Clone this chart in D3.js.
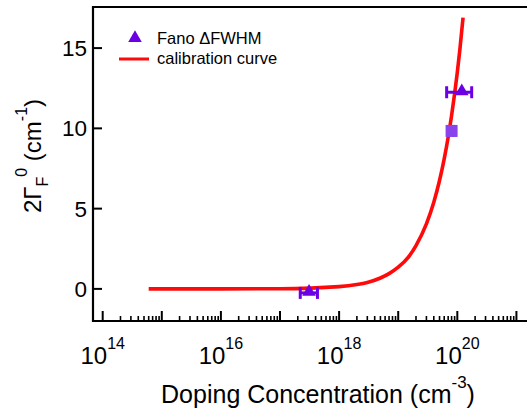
<!DOCTYPE html>
<html><head><meta charset="utf-8">
<script src="https://cdn.jsdelivr.net/npm/d3@7"></script>
<style>body{margin:0;background:#fff}svg{display:block}text{font-family:"Liberation Sans",Arial,sans-serif;fill:#000}</style>
</head><body><svg id="c" width="527" height="412"></svg>
<script>
// Fano ΔFWHM data
const fanoTriX = [3.1e17, 1.19e20];
const fanoTriY = [-0.25, 12.25];
const fanoTriXLo = [2.2e17, 6.6e19];
const fanoTriXHi = [4.3e17, 1.75e20];
const fanoSqX = [8.0e19];
const fanoSqY = [9.84];
const fanoSqXLo = [7.3e19];
const fanoSqXHi = [8.7e19];
// calibration curve
const curveX = [6e14, 1e16, 1e17, 1e18, 2e18, 3e18, 5e18, 7e18, 1e19, 1.5e19, 2e19, 3e19, 4e19, 5e19, 6e19, 7e19, 8e19, 9e19, 1e20, 1.1e20, 1.25e20];
const curveY = [0.0, 0.0, 0.01, 0.14, 0.27, 0.4, 0.68, 0.95, 1.35, 2.0, 2.7, 4.05, 5.4, 6.75, 8.1, 9.45, 10.8, 12.15, 13.5, 14.85, 16.9];
const yTicks = [0, 5, 10, 15];
const xMajorExp = [14, 15, 16, 17, 18, 19, 20, 21];
const xLabelExp = [14, 16, 18, 20];
const legendLabels = ["Fano \u0394FWHM", "calibration curve"];

const svg = d3.select("#c");
const L = 93, R = 527, T = 7, B = 321;
const x = d3.scaleLog().domain([Math.pow(10, 13.836), Math.pow(10, 21.179)]).range([L, R]);
const y = d3.scaleLinear().domain([-2, 17.56]).range([B, T]);
const triCol = "#6c00e4", sqCol = "#8a42ea", red = "#ff0a0a";

// curve
svg.append("path")
  .datum(curveX.map((d, i) => [d, curveY[i]]))
  .attr("fill", "none").attr("stroke", red).attr("stroke-width", 3.6)
  .attr("d", d3.line().x(d => x(d[0])).y(d => y(d[1])).curve(d3.curveMonotoneX));

// error bars helper
function xErr(lo, hi, yv, col) {
  const g = svg.append("g").attr("stroke", col).attr("stroke-width", 3);
  g.append("line").attr("x1", x(lo)).attr("x2", x(hi)).attr("y1", y(yv)).attr("y2", y(yv));
  [lo, hi].forEach(v => g.append("line").attr("x1", x(v)).attr("x2", x(v)).attr("y1", y(yv) - 6).attr("y2", y(yv) + 6));
}
fanoTriX.forEach((d, i) => xErr(fanoTriXLo[i], fanoTriXHi[i], fanoTriY[i], triCol));
fanoSqX.forEach((d, i) => xErr(fanoSqXLo[i], fanoSqXHi[i], fanoSqY[i], sqCol));

const tri = d3.symbol().type(d3.symbolTriangle).size(80);
svg.selectAll(".tri").data(fanoTriX).enter().append("path")
  .attr("transform", (d, i) => `translate(${x(d)},${y(fanoTriY[i]) - 1})`)
  .attr("d", tri).attr("fill", triCol);
svg.selectAll(".sq").data(fanoSqX).enter().append("rect")
  .attr("x", d => x(d) - 6).attr("y", (d, i) => y(fanoSqY[i]) - 6)
  .attr("width", 12).attr("height", 12).attr("fill", sqCol);

// axes frame
svg.append("line").attr("x1", L).attr("x2", R).attr("y1", T).attr("y2", T).attr("stroke", "#000").attr("stroke-width", 2);
svg.append("line").attr("x1", L).attr("x2", L).attr("y1", T - 1).attr("y2", B + 1).attr("stroke", "#000").attr("stroke-width", 2.2);
svg.append("line").attr("x1", L - 1).attr("x2", R).attr("y1", B).attr("y2", B).attr("stroke", "#000").attr("stroke-width", 2.2);

// y ticks
yTicks.forEach(v => {
  svg.append("line").attr("x1", L).attr("x2", L + 9).attr("y1", y(v)).attr("y2", y(v)).attr("stroke", "#000").attr("stroke-width", 2);
  svg.append("text").attr("x", L - 6).attr("y", y(v)).attr("dy", "0.36em").attr("text-anchor", "end")
    .attr("font-size", 22.5).text(v);
});

// x ticks (inward)
const minors = [];
xMajorExp.forEach(e => { if (e < 21) for (let k = 2; k <= 9; k++) minors.push(k * Math.pow(10, e)); });
minors.forEach(v => {
  if (x(v) <= R) svg.append("line").attr("x1", x(v)).attr("x2", x(v)).attr("y1", B).attr("y2", B - 5).attr("stroke", "#000").attr("stroke-width", 1.6);
});
xMajorExp.forEach(e => {
  const xv = x(Math.pow(10, e));
  svg.append("line").attr("x1", xv).attr("x2", xv).attr("y1", B).attr("y2", B - 10).attr("stroke", "#000").attr("stroke-width", 2);
});
xLabelExp.forEach(e => {
  const t = svg.append("text").attr("x", x(Math.pow(10, e))).attr("y", 364).attr("text-anchor", "middle").attr("font-size", 24);
  t.append("tspan").text("10");
  t.append("tspan").attr("dy", -15).attr("font-size", 16).text(e);
});

// x title
const xt = svg.append("text").attr("x", 318).attr("y", 403).attr("text-anchor", "middle").attr("font-size", 25);
xt.append("tspan").text("Doping Concentration (cm");
xt.append("tspan").attr("dy", -15).attr("font-size", 17).text("-3");
xt.append("tspan").attr("dy", 15).text(")");

// y title
const yt = svg.append("text").attr("transform", "translate(41,156) rotate(-90)").attr("text-anchor", "middle").attr("font-size", 24);
yt.append("tspan").text("2\u0393");
yt.append("tspan").attr("dy", 7).attr("font-size", 16).text("F");
yt.append("tspan").attr("dy", -21).attr("font-size", 16).text("0");
yt.append("tspan").attr("dy", 14).text(" (cm");
yt.append("tspan").attr("dy", -14).attr("font-size", 16).text("-1");
yt.append("tspan").attr("dy", 14).text(")");

// legend
svg.append("path").attr("transform", "translate(135,38)").attr("d", d3.symbol().type(d3.symbolTriangle).size(80)).attr("fill", triCol);
svg.append("line").attr("x1", 119).attr("x2", 149).attr("y1", 59).attr("y2", 59).attr("stroke", red).attr("stroke-width", 3);
svg.append("text").attr("x", 157).attr("y", 44).attr("font-size", 16.5).text(legendLabels[0]);
svg.append("text").attr("x", 157).attr("y", 64).attr("font-size", 16.5).text(legendLabels[1]);
</script></body></html>
